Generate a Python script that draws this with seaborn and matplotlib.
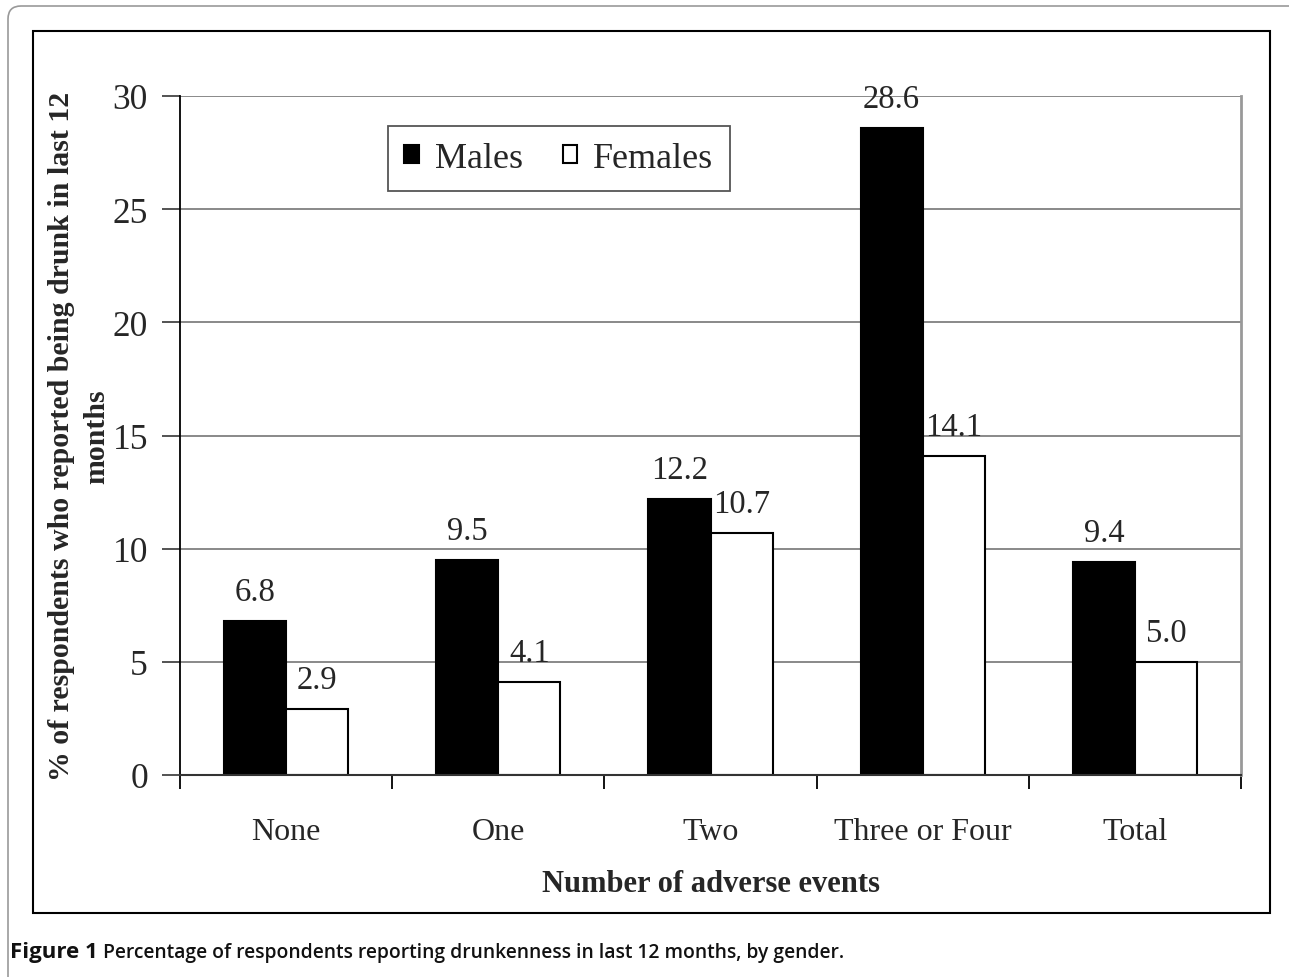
import numpy as np
import pandas as pd
import matplotlib.pyplot as plt
import seaborn as sns
from matplotlib.patches import Rectangle, FancyBboxPatch
from matplotlib.ticker import FixedLocator, MultipleLocator

# ── data ────────────────────────────────────────────────────────────────────
categories = ["None", "One", "Two", "Three or Four", "Total"]
groups     = ["Males", "Females"]
males      = [6.8, 9.5, 12.2, 28.6, 9.4]
females    = [2.9, 4.1, 10.7, 14.1, 5.0]

df = pd.DataFrame({
    "events": categories * 2,
    "pct":    males + females,
    "gender": ["Males"] * len(categories) + ["Females"] * len(categories),
})

sns.set_style("ticks")
plt.rcParams["font.family"] = ["Liberation Serif", "DejaVu Serif"]

W, H = 1289, 978
fig = plt.figure(figsize=(W / 100, H / 100), dpi=100)
ax = fig.add_axes([180 / W, 1 - 776 / H, (1241 - 180) / W, (776 - 97) / H])

sns.barplot(data=df, x="events", y="pct", hue="gender",
            order=categories, hue_order=groups,
            palette={"Males": "black", "Females": "white"},
            edgecolor="black", linewidth=1.5, width=0.585,
            errorbar=None, ax=ax)

ax.set_xlim(-0.5, len(categories) - 0.5)
ax.set_ylim(0, 30)
ax.yaxis.set_major_locator(MultipleLocator(5))
ax.grid(axis="y", color="#808080", lw=1.3)
ax.set_axisbelow(True)

# category separators as minor ticks
ax.xaxis.set_minor_locator(FixedLocator(np.arange(-0.5, len(categories), 1)))
ax.tick_params(axis="x", which="major", length=0, pad=30, labelsize=23)
ax.tick_params(axis="x", which="minor", length=10, width=1.3, direction="out", color="black")
ax.tick_params(axis="y", length=13, width=1.3, direction="out", color="#444444",
               pad=10, labelsize=25.5)

ax.spines["top"].set_visible(False)
ax.spines["right"].set_color("#999999"); ax.spines["right"].set_linewidth(2)
ax.spines["left"].set_color("black"); ax.spines["left"].set_linewidth(1.3)
ax.spines["bottom"].set_color("#333333"); ax.spines["bottom"].set_linewidth(1.5)

for c in ax.containers:
    ax.bar_label(c, fmt="%.1f", padding=10, fontsize=23.5)

ax.set_xlabel("Number of adverse events", fontsize=22, fontweight="bold")
ax.xaxis.set_label_coords(0.5, -0.138)
ax.set_ylabel("% of respondents who reported being drunk in last 12\nmonths",
              fontsize=21.5, fontweight="bold", linespacing=1.4)
ax.yaxis.set_label_coords(-0.066, 0.5)

leg = ax.legend(loc="upper left", bbox_to_anchor=(0.196, 0.956), ncol=2,
                frameon=True, fancybox=False, edgecolor="#555555", fontsize=26,
                handlelength=0.4, handleheight=0.4, handletextpad=0.45,
                columnspacing=1.1, borderpad=0.45, borderaxespad=0, title=None)
leg.get_frame().set_linewidth(1.3)
leg.get_frame().set_alpha(1)

# frames round the chart
fig.patches.append(Rectangle((33 / W, 1 - 914 / H), (1270 - 33) / W, (914 - 32) / H,
                             transform=fig.transFigure, fill=False, ec="black", lw=1.5))
fig.patches.append(FancyBboxPatch((0.08, -0.2), 13.5, 9.71 + 0.2,
                                  boxstyle="round,pad=0,rounding_size=0.13",
                                  transform=fig.dpi_scale_trans, fill=False,
                                  ec="#999999", lw=1.2))

# caption
cap_font = ["Open Sans", "DejaVu Sans"]
t1 = fig.text(10 / W, 1 - 953 / H, "Figure 1", family=cap_font, fontsize=16,
              fontweight="bold", color="#111111", va="center", ha="left")
ax.annotate("Percentage of respondents reporting drunkenness in last 12 months, by gender.",
            xy=(1, 0.5), xycoords=t1, xytext=(4, 0), textcoords="offset points",
            family=cap_font, fontsize=13.9, fontweight="semibold", color="#111111",
            va="center", ha="left", annotation_clip=False)

fig.savefig("out.png", dpi=100)
